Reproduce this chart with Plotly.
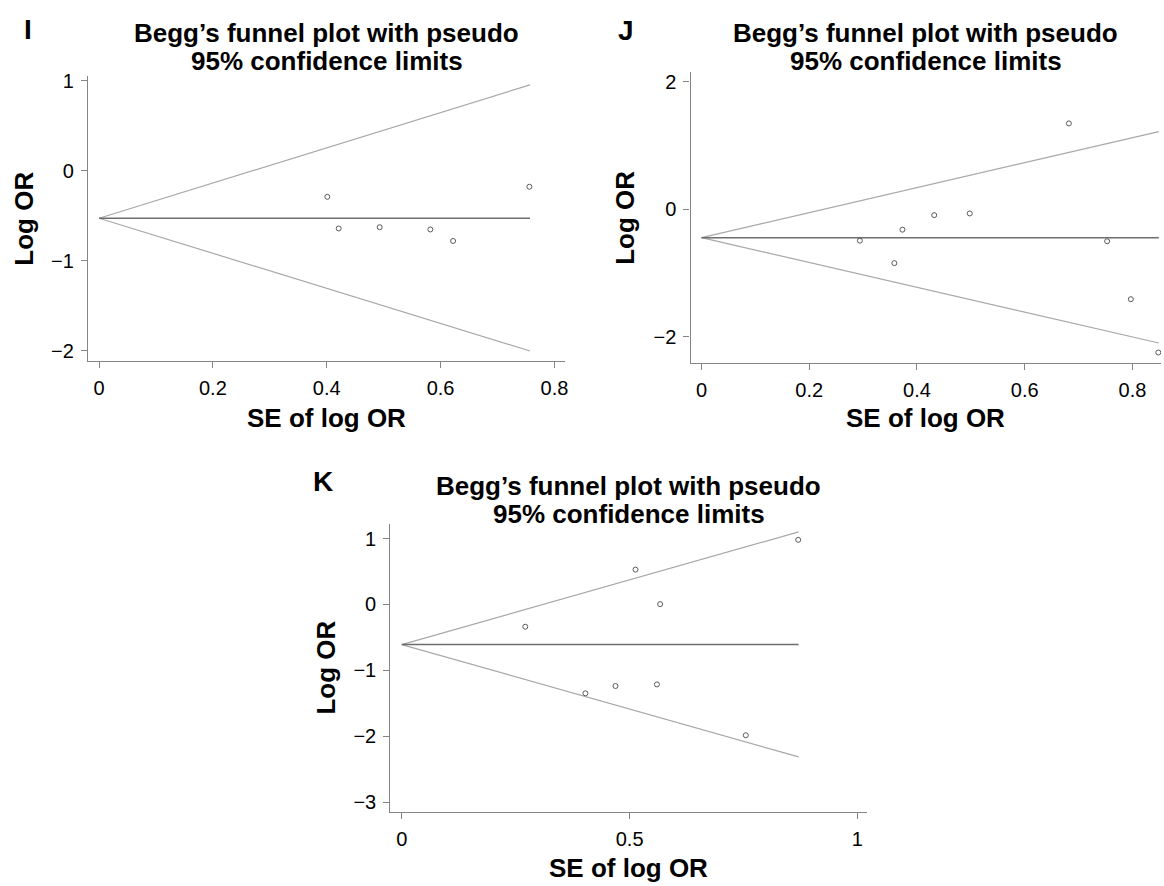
import plotly.graph_objects as go

W, H = 1164, 886

# ---------------- data ----------------
# Panel I
I_se = [0.401, 0.421, 0.493, 0.582, 0.622, 0.756]
I_logor = [-0.290, -0.642, -0.628, -0.653, -0.781, -0.178]
I_theta = -0.528
I_funnel_se = [0.0, 0.757]
I_upper = [-0.528, 0.955]
I_lower = [-0.528, -2.005]

# Panel J
J_se = [0.294, 0.358, 0.373, 0.432, 0.498, 0.682, 0.753, 0.797, 0.848]
J_logor = [-0.494, -0.847, -0.322, -0.094, -0.068, 1.345, -0.504, -1.413, -2.249]
J_theta = -0.447
J_funnel_se = [0.0, 0.849]
J_upper = [-0.447, 1.217]
J_lower = [-0.447, -2.100]

# Panel K
K_se = [0.271, 0.403, 0.469, 0.513, 0.560, 0.567, 0.755, 0.870]
K_logor = [-0.337, -1.346, -1.236, 0.528, -1.211, 0.005, -1.982, 0.980]
K_theta = -0.608
K_funnel_se = [0.0, 0.871]
K_upper = [-0.608, 1.100]
K_lower = [-0.608, -2.310]

panel_letters = ["I", "J", "K"]
title_line1 = "Begg’s funnel plot with pseudo"
title_line2 = "95% confidence limits"
x_title = "SE of log OR"
y_title = "Log OR"

# ---------------- styling / layout ----------------
FONT = "Liberation Sans, Arial, Helvetica, sans-serif"
AXIS_COL = "#858585"
FUNNEL_COL = "#a8a8a8"
MID_COL = "#6e6e6e"
MARK_COL = "#5a5a5a"


def px(x):
    return x / W


def py(y):
    return 1 - y / H


panels = [
    dict(se=I_se, lo=I_logor, th=I_theta, fse=I_funnel_se, up=I_upper, dn=I_lower,
         box=(88.3, 566.7, 71.0, 358.3), xr=[-0.0193, 0.819], yr=[-2.117, 1.05],
         xd=0.2, yd=1, ytitle_x=24, letter=(28, 24), t1=27, t2=56, xt_y=416),
    dict(se=J_se, lo=J_logor, th=J_theta, fse=J_funnel_se, up=J_upper, dn=J_lower,
         box=(692.3, 1164.0, 66.7, 360.0), xr=[-0.0204, 0.853], yr=[-2.41, 2.15],
         xd=0.2, yd=2, ytitle_x=627, letter=(628, 25), t1=27, t2=56, xt_y=416),
    dict(se=K_se, lo=K_logor, th=K_theta, fse=K_funnel_se, up=K_upper, dn=K_lower,
         box=(391.4, 869.7, 522.7, 813.0), xr=[-0.025, 1.022], yr=[-3.14, 1.22],
         xd=0.5, yd=1, ytitle_x=326.6, letter=(324, 480), t1=484, t2=513, xt_y=870),
]

fig = go.Figure()
annotations = []

for i, p in enumerate(panels):
    n = "" if i == 0 else str(i + 1)
    xa, ya = "x" + n, "y" + n
    x0, x1, y0, y1 = p["box"]

    # funnel limits
    for yy in (p["up"], p["dn"]):
        fig.add_trace(go.Scatter(x=p["fse"], y=yy, xaxis=xa, yaxis=ya, mode="lines",
                                 line=dict(color=FUNNEL_COL, width=1.2),
                                 showlegend=False, hoverinfo="skip"))
    # pooled estimate line
    fig.add_trace(go.Scatter(x=p["fse"], y=[p["th"], p["th"]], xaxis=xa, yaxis=ya,
                             mode="lines", line=dict(color=MID_COL, width=1.5),
                             showlegend=False, hoverinfo="skip"))
    # studies
    fig.add_trace(go.Scatter(x=p["se"], y=p["lo"], xaxis=xa, yaxis=ya, mode="markers",
                             marker=dict(symbol="circle-open", size=5, color=MARK_COL,
                                         line=dict(color=MARK_COL, width=1)),
                             showlegend=False))

    common = dict(showline=True, linecolor=AXIS_COL, linewidth=1.3, showgrid=False,
                  zeroline=False, ticks="outside", ticklen=6, tickwidth=1.2,
                  tickcolor=AXIS_COL, mirror=False,
                  tickfont=dict(family=FONT, size=20, color="black"))
    fig.layout["xaxis" + n] = dict(
        domain=[px(x0), min(px(x1), 1.0)], range=p["xr"], anchor=ya,
        tick0=0, dtick=p["xd"], ticklabelstandoff=3, **common)
    fig.layout["yaxis" + n] = dict(
        domain=[py(y1), py(y0)], range=p["yr"], anchor=xa,
        tick0=0, dtick=p["yd"], ticklabelstandoff=3, **common)

    cx = (x0 + x1) / 2
    bold = dict(family=FONT, size=26, color="black")
    annotations += [
        dict(text="<b>%s</b>" % title_line1, x=px(cx), y=py(p["t1"]), xref="paper",
             yref="paper", xanchor="center", yanchor="middle", showarrow=False, font=bold),
        dict(text="<b>%s</b>" % title_line2, x=px(cx), y=py(p["t2"]), xref="paper",
             yref="paper", xanchor="center", yanchor="middle", showarrow=False, font=bold),
        dict(text="<b>%s</b>" % panel_letters[i], x=px(p["letter"][0]), y=py(p["letter"][1]),
             xref="paper", yref="paper", xanchor="center", yanchor="middle",
             showarrow=False, font=dict(family=FONT, size=28, color="black")),
        dict(text="<b>%s</b>" % x_title, x=px(cx), y=py(p["xt_y"]), xref="paper",
             yref="paper", xanchor="center", yanchor="middle", showarrow=False, font=bold),
        dict(text="<b>%s</b>" % y_title, x=px(p["ytitle_x"]), y=py((y0 + y1) / 2),
             xref="paper", yref="paper", xanchor="center", yanchor="middle",
             textangle=-90, showarrow=False, font=bold),
    ]

fig.update_layout(width=W, height=H, margin=dict(l=0, r=0, t=0, b=0),
                  paper_bgcolor="white", plot_bgcolor="white",
                  annotations=annotations, showlegend=False)

fig.write_html("out.html")
